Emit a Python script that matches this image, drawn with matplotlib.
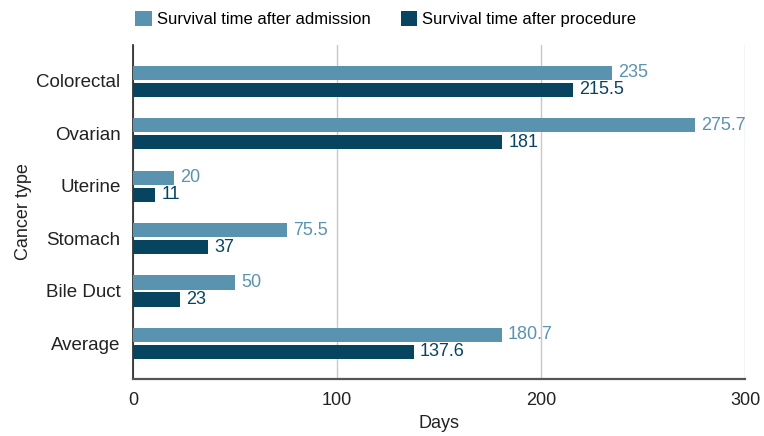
import numpy as np
import matplotlib.pyplot as plt

plt.rcParams['font.family'] = ['Liberation Sans', 'DejaVu Sans']

categories = ['Colorectal', 'Ovarian', 'Uterine', 'Stomach', 'Bile Duct', 'Average']
after_admission = [235, 275.7, 20, 75.5, 50, 180.7]
after_procedure = [215.5, 181, 11, 37, 23, 137.6]
admission_labels = ['235', '275.7', '20', '75.5', '50', '180.7']
procedure_labels = ['215.5', '181', '11', '37', '23', '137.6']

light = '#5a93af'
dark = '#07445f'

fig = plt.figure(figsize=(7.64, 4.36), dpi=100)
ax = fig.add_axes([133 / 764, 57 / 436, 612 / 764, 334 / 436])

y = np.arange(len(categories))
h = 0.27
ax.barh(y - 0.155, after_admission, height=h, color=light, label='Survival time after admission', zorder=3)
ax.barh(y + 0.17, after_procedure, height=h, color=dark, label='Survival time after procedure', zorder=3)

for yi, v, s in zip(y, after_admission, admission_labels):
    ax.text(v + 3, yi - 0.155, s, color=light, fontsize=13, va='center', ha='left')
for yi, v, s in zip(y, after_procedure, procedure_labels):
    ax.text(v + 3, yi + 0.17, s, color=dark, fontsize=13, va='center', ha='left')

ax.set_xlim(0, 300)
ax.set_ylim(len(categories) - 1 + 0.687, -0.687)
ax.set_yticks(y)
ax.set_yticklabels(categories, fontsize=13.5, color='#222222')
ax.set_xticks([0, 100, 200, 300])
ax.tick_params(axis='x', labelsize=13, colors='#222222', length=0, pad=9)
ax.tick_params(axis='y', length=0, pad=9)
ax.set_xlabel('Days', fontsize=13, color='#222222', labelpad=5)
ax.set_ylabel('Cancer type', fontsize=13, color='#222222', labelpad=3)

ax.grid(axis='x', color='#c8c8c8', linewidth=1, zorder=0)
for side in ['top', 'right']:
    ax.spines[side].set_visible(False)
ax.spines['left'].set_color('#222222')
ax.spines['left'].set_linewidth(1.2)
ax.spines['bottom'].set_color('#555555')
ax.spines['bottom'].set_linewidth(1.6)

fig.legend(loc='upper center', bbox_to_anchor=(0.505, 1.01), ncol=2, frameon=False,
           fontsize=12, handlelength=1.0, handleheight=1.0, handletextpad=0.3,
           columnspacing=1.8)

fig.savefig('out.png', dpi=100)
